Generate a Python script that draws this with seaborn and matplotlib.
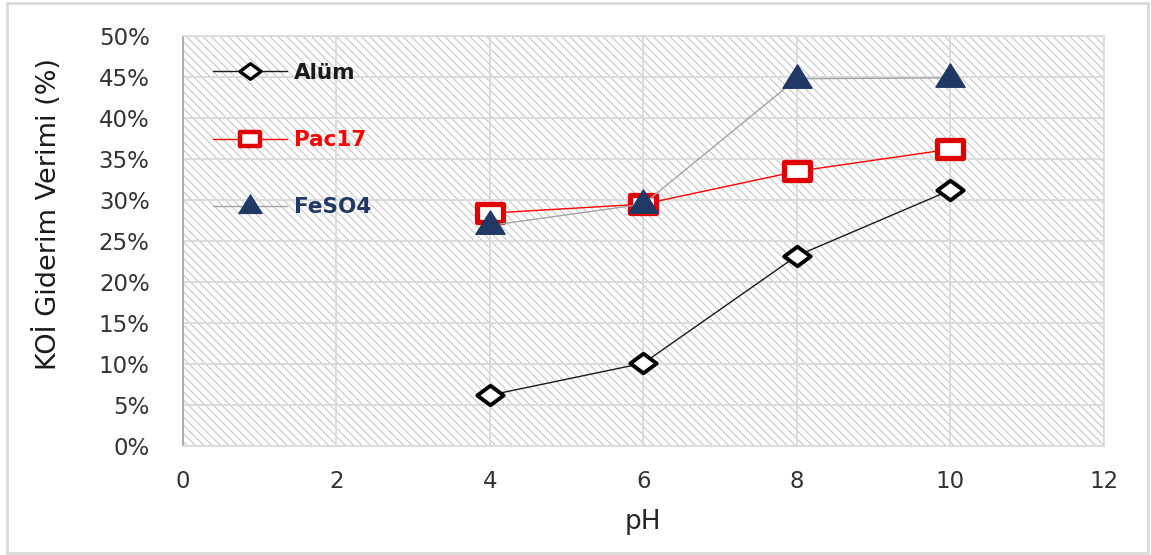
import matplotlib
matplotlib.use("Agg")
import matplotlib.pyplot as plt
from matplotlib.patches import Rectangle
from matplotlib.path import Path
from matplotlib.lines import Line2D
from matplotlib.ticker import FuncFormatter, MultipleLocator
import seaborn as sns
import pandas as pd

# pH values and COD removal efficiency (%) per coagulant
ph = [4, 6, 8, 10]
alum = [6.2, 10.1, 23.2, 31.2]
pac17 = [28.4, 29.5, 33.5, 36.2]
feso4 = [26.9, 29.5, 44.8, 44.9]
series_names = ["Alüm", "Pac17", "FeSO4"]

sns.set_theme(style="white")
plt.rcParams["font.family"] = ["DejaVu Sans"]
plt.rcParams["hatch.color"] = "#c6c6c6"
plt.rcParams["hatch.linewidth"] = 0.8

df = pd.DataFrame({
    "pH": ph * 3,
    "val": alum + pac17 + feso4,
    "series": [series_names[0]] * 4 + [series_names[1]] * 4 + [series_names[2]] * 4,
})

# wide (flattened) marker shapes
diamond = Path([(-1, 0), (0, 0.74), (1, 0), (0, -0.74), (-1, 0)],
               [Path.MOVETO, Path.LINETO, Path.LINETO, Path.LINETO, Path.CLOSEPOLY])
square = Path([(-1, -0.7), (1, -0.7), (1, 0.7), (-1, 0.7), (-1, -0.7)],
              [Path.MOVETO, Path.LINETO, Path.LINETO, Path.LINETO, Path.CLOSEPOLY])
triangle = Path([(-1, -0.6), (1, -0.6), (0, 1.0), (-1, -0.6)],
                [Path.MOVETO, Path.LINETO, Path.LINETO, Path.CLOSEPOLY])

styles = {
    "Alüm": dict(color="#1a1a1a", marker=diamond, ms=19, mfc="white", mec="black", mew=2.8, lw=1.0),
    "Pac17": dict(color="#ff0000", marker=square, ms=18.5, mfc="white", mec="#e00000", mew=3.8, lw=1.0),
    "FeSO4": dict(color="#a3a3a3", marker=triangle, ms=21, mfc="#1f3864", mec="#1f3864", mew=1, lw=1.0),
}
text_colors = {"Alüm": "#1a1a1a", "Pac17": "#ff0000", "FeSO4": "#1f3864"}

fig = plt.figure(figsize=(11.51, 5.55), dpi=100)
ax = fig.add_axes([0.159, 0.1964, 0.8, 0.7386])

# hatched plot-area background
ax.add_patch(Rectangle((0, 0), 1, 1, transform=ax.transAxes, facecolor="white",
                       edgecolor="#c6c6c6", hatch="\\\\\\\\", lw=0, zorder=0))

for i, name in enumerate(series_names):
    st = styles[name]
    sub = df[df["series"] == name]
    sns.lineplot(data=sub, x="pH", y="val", ax=ax, color=st["color"], lw=st["lw"],
                 marker=st["marker"], markersize=st["ms"], markerfacecolor=st["mfc"],
                 markeredgecolor=st["mec"], markeredgewidth=st["mew"],
                 legend=False, zorder=3 + i)

ax.set_xlim(0, 12)
ax.set_ylim(0, 50)
ax.xaxis.set_major_locator(MultipleLocator(2))
ax.yaxis.set_major_locator(MultipleLocator(5))
ax.yaxis.set_major_formatter(FuncFormatter(lambda v, p: f"{v:.0f}%"))
ax.grid(True, color="#d9d9d9", lw=1.3, zorder=1)
ax.set_axisbelow(True)
ax.tick_params(axis="both", length=0, labelsize=16.5, colors="#333333")
ax.tick_params(axis="y", pad=24)
ax.tick_params(axis="x", pad=17)
for s in ["top", "right", "bottom"]:
    ax.spines[s].set_color("#d9d9d9")
    ax.spines[s].set_linewidth(1.2)
ax.spines["left"].set_color("#a6a6a6")
ax.spines["left"].set_linewidth(1.3)

ax.set_xlabel("pH", fontsize=19, color="#262626", labelpad=12)
ax.set_ylabel("KOİ Giderim Verimi (%)", fontsize=19.5, color="#1a1a1a")
ax.yaxis.set_label_coords(-0.131, 0.565)

# legend
handles = []
for name in series_names:
    st = styles[name]
    handles.append(Line2D([0], [0], color=st["color"], lw=st["lw"], marker=st["marker"],
                          ms=st["ms"] * 0.8, mfc=st["mfc"], mec=st["mec"],
                          mew=st["mew"] * 0.85))
leg = ax.legend(handles, series_names, loc="upper left", bbox_to_anchor=(0.033, 0.935),
                frameon=False, borderpad=0, borderaxespad=0, handlelength=3.4,
                handletextpad=0.35, labelspacing=2.2,
                prop={"weight": "bold", "size": 15.5})
for txt, name in zip(leg.get_texts(), series_names):
    txt.set_color(text_colors[name])

# outer chart border
fig.patches.append(Rectangle((0.006, 0.004), 0.991, 0.99, transform=fig.transFigure,
                             fill=False, edgecolor="#d9d9d9", lw=2))

fig.savefig("out.png", dpi=100)
